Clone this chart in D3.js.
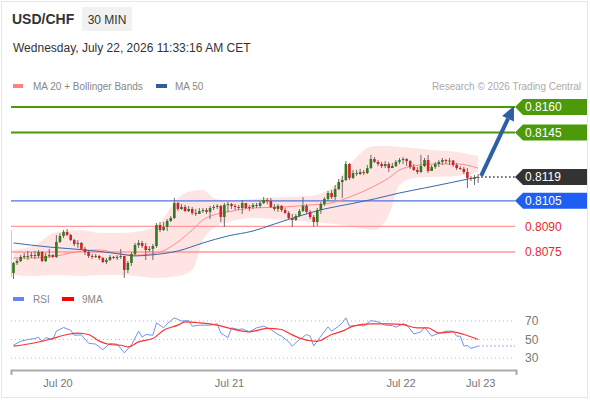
<!DOCTYPE html>
<html>
<head>
<meta charset="utf-8">
<script src="https://cdn.jsdelivr.net/npm/d3@7"></script>
<style>
  body { margin: 0; background: #fff; }
  svg { display: block; font-family: "Liberation Sans", Arial, sans-serif; }
</style>
</head>
<body>
<svg id="chart" width="590" height="400"></svg>
<script>
// header texts
var pair = "USD/CHF";
var period = "30 MIN";
var stamp = "Wednesday, July 22, 2026 11:33:16 AM CET";

// 30 min candles, open = previous close
var firstOpen = 0.80627;
var closes = [
  0.80686,0.80697,0.80721,0.80727,0.80727,0.80732,0.80727,0.80750,0.80697,0.80727,
  0.80732,0.80721,0.80809,0.80844,0.80867,0.80850,0.80820,0.80797,0.80803,0.80768,
  0.80750,0.80727,0.80721,0.80727,0.80715,0.80691,0.80703,0.80721,0.80715,0.80721,
  0.80727,0.80645,0.80686,0.80738,0.80791,0.80803,0.80785,0.80762,0.80768,0.80785,
  0.80908,0.80879,0.80897,0.80932,0.80949,0.81037,0.81002,0.81014,0.80990,0.81002,
  0.80979,0.80973,0.80990,0.80996,0.80985,0.81008,0.81014,0.81020,0.80955,0.81026,
  0.81031,0.81020,0.81014,0.81008,0.81037,0.81008,0.81014,0.81026,0.81020,0.81037,
  0.81055,0.81049,0.81014,0.81002,0.81020,0.80996,0.80979,0.80949,0.80938,0.80961,
  0.80990,0.81020,0.80985,0.80955,0.80926,0.80996,0.81031,0.81061,0.81096,0.81072,
  0.81119,0.81160,0.81172,0.81266,0.81184,0.81213,0.81207,0.81219,0.81213,0.81242,
  0.81295,0.81278,0.81266,0.81254,0.81266,0.81242,0.81254,0.81278,0.81289,0.81295,
  0.81283,0.81248,0.81231,0.81219,0.81254,0.81289,0.81225,0.81248,0.81266,0.81278,
  0.81289,0.81283,0.81286,0.81260,0.81242,0.81237,0.81219,0.81184,0.81178,0.81187,
  0.81190
];
var highs = [
  0.80691,0.80709,0.80732,0.80744,0.80756,0.80750,0.80756,0.80762,0.80756,0.80744,
  0.80768,0.80738,0.80850,0.80861,0.80879,0.80885,0.80856,0.80826,0.80820,0.80809,
  0.80779,0.80756,0.80738,0.80738,0.80732,0.80721,0.80715,0.80732,0.80727,0.80732,
  0.80768,0.80727,0.80697,0.80750,0.80803,0.80820,0.80815,0.80803,0.80785,0.80797,
  0.80920,0.80926,0.80926,0.80943,0.80961,0.81067,0.81043,0.81031,0.81026,0.81020,
  0.81014,0.81002,0.81008,0.81008,0.81008,0.81020,0.81026,0.81031,0.81026,0.81037,
  0.81043,0.81037,0.81031,0.81026,0.81055,0.81037,0.81026,0.81037,0.81037,0.81049,
  0.81072,0.81067,0.81067,0.81031,0.81031,0.81026,0.81008,0.80990,0.80973,0.80973,
  0.81002,0.81072,0.81031,0.80996,0.80967,0.81008,0.81043,0.81072,0.81108,0.81113,
  0.81143,0.81178,0.81196,0.81283,0.81272,0.81231,0.81231,0.81237,0.81231,0.81260,
  0.81319,0.81307,0.81289,0.81278,0.81283,0.81278,0.81272,0.81289,0.81301,0.81307,
  0.81301,0.81289,0.81266,0.81248,0.81319,0.81301,0.81319,0.81260,0.81278,0.81289,
  0.81301,0.81295,0.81301,0.81289,0.81272,0.81254,0.81248,0.81242,0.81196,0.81201,
  0.81207
];
var lows = [
  0.80592,0.80674,0.80691,0.80709,0.80703,0.80715,0.80709,0.80715,0.80691,0.80691,
  0.80715,0.80715,0.80715,0.80803,0.80832,0.80844,0.80815,0.80785,0.80774,0.80762,
  0.80732,0.80715,0.80709,0.80715,0.80703,0.80686,0.80680,0.80697,0.80709,0.80703,
  0.80709,0.80598,0.80627,0.80668,0.80727,0.80774,0.80774,0.80703,0.80750,0.80703,
  0.80774,0.80867,0.80873,0.80873,0.80926,0.80943,0.80990,0.80996,0.80985,0.80985,
  0.80967,0.80961,0.80973,0.80979,0.80973,0.80943,0.80996,0.81002,0.80926,0.80897,
  0.80985,0.81002,0.80996,0.80996,0.80973,0.81002,0.80990,0.81002,0.81008,0.81008,
  0.81031,0.81031,0.81008,0.80990,0.80985,0.80985,0.80973,0.80938,0.80897,0.80932,
  0.80955,0.80985,0.80973,0.80943,0.80897,0.80902,0.80973,0.81020,0.81049,0.81061,
  0.81055,0.81113,0.81067,0.81166,0.81172,0.81178,0.81196,0.81201,0.81201,0.81207,
  0.81237,0.81272,0.81254,0.81242,0.81242,0.81219,0.81242,0.81248,0.81266,0.81266,
  0.81254,0.81237,0.81225,0.81207,0.81213,0.81248,0.81213,0.81225,0.81237,0.81248,
  0.81260,0.81266,0.81260,0.81248,0.81231,0.81231,0.81207,0.81125,0.81166,0.81143,
  0.81155
];

// MA 20 + Bollinger bands, read at these candle indices
var bandIdx = [0,6,12,19,24,30,34,40,46,50,53,56,60,67,76,83,87,90,94,101,105,108,112,117,124,130];
var bbUpper = [0.80762,0.80791,0.80867,0.80879,0.80861,0.80861,0.80867,0.80902,0.81067,0.81108,0.81113,0.81067,0.81049,
               0.81061,0.81072,0.81078,0.81102,0.81143,0.81260,0.81371,0.81371,0.81366,0.81360,0.81348,0.81336,0.81313];
var bbLower = [0.80615,0.80609,0.80615,0.80609,0.80615,0.80615,0.80609,0.80598,0.80609,0.80645,0.80820,0.80891,0.80926,
               0.80949,0.80938,0.80926,0.80920,0.80914,0.80902,0.80879,0.80967,0.81143,0.81184,0.81190,0.81196,0.81219];
var ma20 = [0.80715,0.80715,0.80727,0.80756,0.80762,0.80738,0.80732,0.80744,0.80809,0.80879,0.80938,0.80967,0.80985,
            0.81008,0.81014,0.81026,0.81031,0.81043,0.81072,0.81137,0.81184,0.81231,0.81254,0.81266,0.81266,0.81242];

// MA 50
var ma50Idx = [0,10,20,30,34,38,46,53,60,67,73,80,87,94,101,108,115,122,130];
var ma50 = [0.80803,0.80779,0.80762,0.80738,0.80727,0.80732,0.80756,0.80803,0.80844,0.80873,
            0.80914,0.80961,0.81002,0.81031,0.81061,0.81096,0.81125,0.81155,0.81190];

// key levels
var resistances = [0.8160, 0.8145];
var pivot = 0.8105;
var supports = [0.8090, 0.8075];
var lastPrice = 0.8119;

// RSI and its 9 period MA
var rsiIdx = [0,2,4,6,7,8,9,11,12,14,16,17,19,21,23,25,27,29,31,33,35,36,37,39,40,42,43,45,47,49,
              50,52,55,57,58,60,61,63,64,66,68,70,72,74,75,77,78,80,82,83,84,86,88,89,91,92,93,94,97,98,
              100,102,104,106,107,109,110,112,114,115,117,118,121,123,124,125,126,127,128,130];
var rsi = [44,48,50,51,52.5,48,52,50,59,63,60,54.6,55,46,45,39,45.7,45,35.6,44,59,52.5,55.4,54.6,68,62.6,67,73.4,70,70.5,
           64.4,65.5,65.5,67,57,52,62.6,60.8,61.5,58.3,62.6,64.4,60.8,55.4,53.6,47.5,42.8,50,55.4,53.6,43,53.6,63.7,59,64.4,68,73.4,64.4,65.5,64.4,
           70.5,69,65.5,65,63.3,67,66,56,58.3,63.3,53.6,55.4,59,59,53.6,53.6,43,43.5,40.3,43];
var rsiMaIdx = [0,5,10,15,18,21,24,27,30,32,35,39,42,46,48,52,57,60,66,71,75,77,80,85,89,92,95,100,105,109,113,116,119,123,126,130];
var rsiMa = [42.8,45.7,50,55.4,57,55.4,48.2,44.6,43.8,42,47.5,51,60,65.5,69,68,65.5,62.6,58.3,62,
             60.8,57,51.5,48,55.4,59,64.4,67,67,66,62.6,62.6,57,58.3,55.4,50];
var rsiLevels = [70, 50, 30];

// time axis
var tickIdx = [12.3, 60.3, 108.3, 130.6];
var tickLabels = ["Jul 20", "Jul 21", "Jul 22", "Jul 23"];

var svg = d3.select("#chart");

var x = d3.scaleLinear().domain([-0.7, 140.6]).range([11, 516]);
var y = d3.scaleLinear().domain([0.8075, 0.8160]).range([252, 107]);
var yR = d3.scaleLinear().domain([30, 70]).range([358, 321]);

var green = "#4c9a0a";
var blue = "#1f5ef2";

// frame
svg.append("rect")
  .attr("x", 1.5).attr("y", 1.5)
  .attr("width", 586).attr("height", 396)
  .attr("fill", "#fff")
  .attr("stroke", "#e6e6e6");

// header
svg.append("text")
  .attr("x", 12).attr("y", 24)
  .attr("font-size", 14).attr("font-weight", "bold")
  .attr("fill", "#333")
  .text(pair);
svg.append("rect")
  .attr("x", 82).attr("y", 7)
  .attr("width", 50).attr("height", 24)
  .attr("fill", "#f1f1f1");
svg.append("text")
  .attr("x", 107).attr("y", 24)
  .attr("text-anchor", "middle")
  .attr("font-size", 12).attr("fill", "#333")
  .text(period);
svg.append("text")
  .attr("x", 13).attr("y", 52)
  .attr("font-size", 12).attr("fill", "#333")
  .text(stamp);

// legend
svg.append("rect").attr("x", 13).attr("y", 84).attr("width", 10).attr("height", 4).attr("fill", "#ff8080");
svg.append("text").attr("x", 33).attr("y", 90).attr("font-size", 10).attr("fill", "#888").text("MA 20 + Bollinger Bands");
svg.append("rect").attr("x", 156).attr("y", 84).attr("width", 11).attr("height", 4).attr("fill", "#2f5d9e");
svg.append("text").attr("x", 175).attr("y", 90).attr("font-size", 10).attr("fill", "#888").text("MA 50");
svg.append("text").attr("x", 581).attr("y", 90)
  .attr("text-anchor", "end")
  .attr("font-size", 10).attr("fill", "#aaa")
  .text("Research \u00a9 2026 Trading Central");

// bollinger band
var band = d3.area()
  .x(function(d, i) { return x(bandIdx[i]); })
  .y0(function(d, i) { return y(bbLower[i]); })
  .y1(function(d, i) { return y(bbUpper[i]); })
  .curve(d3.curveMonotoneX);
svg.append("path")
  .attr("d", band(bandIdx))
  .attr("fill", "#ffd9d9")
  .attr("opacity", 0.7);

// left edge mark
svg.append("line")
  .attr("x1", 11.5).attr("x2", 11.5)
  .attr("y1", 230).attr("y2", 277)
  .attr("stroke", "#ccc");

// level lines
resistances.forEach(function(v) {
  svg.append("line")
    .attr("x1", 11).attr("x2", 515)
    .attr("y1", y(v)).attr("y2", y(v))
    .attr("stroke", green).attr("stroke-width", 2);
});
svg.append("line")
  .attr("x1", 11).attr("x2", 515)
  .attr("y1", y(pivot)).attr("y2", y(pivot))
  .attr("stroke", "#4f74dd").attr("stroke-width", 1.3);
supports.forEach(function(v) {
  svg.append("line")
    .attr("x1", 11).attr("x2", 515)
    .attr("y1", y(v)).attr("y2", y(v))
    .attr("stroke", "#ff9a9a").attr("stroke-width", 1.3);
});

// moving averages
var ma20Line = d3.line()
  .x(function(d, i) { return x(bandIdx[i]); })
  .y(function(d) { return y(d); })
  .curve(d3.curveMonotoneX);
svg.append("path")
  .attr("d", ma20Line(ma20))
  .attr("fill", "none")
  .attr("stroke", "#ff8c8c").attr("stroke-width", 1);

var ma50Line = d3.line()
  .x(function(d, i) { return x(ma50Idx[i]); })
  .y(function(d) { return y(d); })
  .curve(d3.curveMonotoneX);
svg.append("path")
  .attr("d", ma50Line(ma50))
  .attr("fill", "none")
  .attr("stroke", "#3b66ad").attr("stroke-width", 1);

// candles
var candles = svg.append("g");
closes.forEach(function(c, i) {
  var o = i === 0 ? firstOpen : closes[i - 1];
  var hi = Math.max(highs[i], o, c);
  var lo = Math.min(lows[i], o, c);
  var up = c >= o;
  candles.append("line")
    .attr("x1", x(i)).attr("x2", x(i))
    .attr("y1", y(hi)).attr("y2", y(lo))
    .attr("stroke", "#6b6b6b").attr("stroke-width", 1);
  candles.append("rect")
    .attr("x", x(i) - 1.3)
    .attr("width", 2.6)
    .attr("y", Math.min(y(o), y(c)))
    .attr("height", Math.max(1, Math.abs(y(o) - y(c))))
    .attr("fill", up ? "#2f7a1f" : "#d42222");
});

// current price dotted line
var lastX = x(closes.length - 1);
svg.append("line")
  .attr("x1", lastX + 3).attr("x2", 515)
  .attr("y1", y(lastPrice)).attr("y2", y(lastPrice))
  .attr("stroke", "#333").attr("stroke-width", 1.5)
  .attr("stroke-dasharray", "1.5,2.5");

// projection arrow
var ax0 = lastX + 3, ay0 = y(lastPrice) - 1;
var ax1 = 514, ay1 = y(resistances[0]) - 1;
var len = Math.hypot(ax1 - ax0, ay1 - ay0);
var ux = (ax1 - ax0) / len, uy = (ay1 - ay0) / len;
var bx = ax1 - 14 * ux, by = ay1 - 14 * uy;
svg.append("line")
  .attr("x1", ax0).attr("y1", ay0)
  .attr("x2", bx).attr("y2", by)
  .attr("stroke", "#2d5fa6").attr("stroke-width", 4);
svg.append("path")
  .attr("d", "M" + ax1 + "," + ay1 +
    "L" + (bx - 6.5 * uy) + "," + (by + 6.5 * ux) +
    "L" + (bx + 6.5 * uy) + "," + (by - 6.5 * ux) + "Z")
  .attr("fill", "#2d5fa6");

// price tags
function tag(v, fill) {
  var cy = y(v);
  svg.append("path")
    .attr("d", "M515," + cy + "L523," + (cy - 8) + "H587V" + (cy + 8) + "H523Z")
    .attr("fill", fill);
  svg.append("text")
    .attr("x", 525).attr("y", cy + 4.3)
    .attr("font-size", 12).attr("fill", "#fff")
    .text(v.toFixed(4));
}
resistances.forEach(function(v) { tag(v, green); });
tag(lastPrice, "#333");
tag(pivot, blue);
supports.forEach(function(v) {
  svg.append("text")
    .attr("x", 525).attr("y", y(v) + 4.3)
    .attr("font-size", 12).attr("fill", "#e8292b")
    .text(v.toFixed(4));
});

// RSI legend
svg.append("rect").attr("x", 13).attr("y", 297).attr("width", 11).attr("height", 4).attr("fill", "#6688ee");
svg.append("text").attr("x", 33).attr("y", 303).attr("font-size", 10).attr("fill", "#888").text("RSI");
svg.append("rect").attr("x", 62).attr("y", 297).attr("width", 12).attr("height", 4).attr("fill", "#ff0000");
svg.append("text").attr("x", 82).attr("y", 303).attr("font-size", 10).attr("fill", "#888").text("9MA");

// RSI grid
rsiLevels.forEach(function(v) {
  svg.append("line")
    .attr("x1", 11).attr("x2", 515)
    .attr("y1", yR(v)).attr("y2", yR(v))
    .attr("stroke", "#bbb").attr("stroke-width", 1)
    .attr("stroke-dasharray", "1,3");
  svg.append("text")
    .attr("x", 525).attr("y", yR(v) + 4.3)
    .attr("font-size", 12).attr("fill", "#777")
    .text(v);
});

// RSI lines
var rsiLine = d3.line()
  .x(function(d, i) { return x(rsiIdx[i]); })
  .y(function(d) { return yR(d); });
svg.append("path")
  .attr("d", rsiLine(rsi))
  .attr("fill", "none")
  .attr("stroke", "#7393ec").attr("stroke-width", 1);
svg.append("line")
  .attr("x1", x(rsiIdx[rsiIdx.length - 1])).attr("x2", 515)
  .attr("y1", yR(rsi[rsi.length - 1])).attr("y2", yR(rsi[rsi.length - 1]))
  .attr("stroke", "#7393ec").attr("stroke-width", 1.2)
  .attr("stroke-dasharray", "1.5,2.5");

var rsiMaLine = d3.line()
  .x(function(d, i) { return x(rsiMaIdx[i]); })
  .y(function(d) { return yR(d); })
  .curve(d3.curveMonotoneX);
svg.append("path")
  .attr("d", rsiMaLine(rsiMa))
  .attr("fill", "none")
  .attr("stroke", "#ff3333").attr("stroke-width", 1.2);

// time axis
var axis = svg.append("g")
  .attr("transform", "translate(0,370)")
  .call(d3.axisBottom(x)
    .tickValues(tickIdx)
    .tickFormat(function(d, i) { return tickLabels[i]; })
    .tickSizeInner(0)
    .tickSizeOuter(5)
    .tickPadding(9));
axis.select(".domain").attr("stroke", "#aaa").attr("stroke-width", 2);
axis.selectAll("text")
  .attr("font-size", 11)
  .attr("fill", "#777")
  .attr("font-family", "Liberation Sans, Arial, sans-serif");
</script>
</body>
</html>
